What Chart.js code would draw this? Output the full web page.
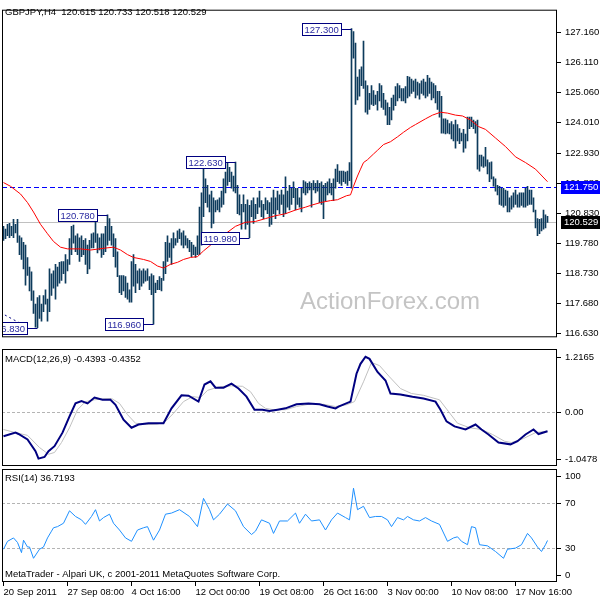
<!DOCTYPE html>
<html><head><meta charset="utf-8">
<script src="https://cdn.jsdelivr.net/npm/chart.js@4.4.0/dist/chart.umd.min.js"></script>
<style>
html,body{margin:0;padding:0;background:#fff;}
#wrap{position:relative;width:600px;height:600px;overflow:hidden;background:#fff;}
canvas{position:absolute;left:0;}
</style></head><body>
<div id="wrap">
<canvas id="main" width="600" height="347" style="top:0;width:600px;height:347px"></canvas>
<canvas id="macd" width="600" height="120" style="top:347px;width:600px;height:120px"></canvas>
<canvas id="rsi" width="600" height="133" style="top:467px;width:600px;height:133px"></canvas>
</div>
<script>
// ---------- DATA ----------
const symbol = "GBPJPY,H4";
const lastOHLC = [120.615, 120.733, 120.518, 120.529];

const highs = [
120.38,120.28,120.45,120.48,120.38,120.62,120.45,120.62,120.05,119.98,
119.82,119.72,119.29,118.95,118.79,118.12,117.66,117.89,117.96,117.66,
117.96,118.16,117.83,118.89,118.72,118.82,119.05,118.95,119.12,119.15,
119.15,119.39,119.22,119.95,120.38,120.42,120.05,120.12,119.98,120.05,
119.89,119.95,119.72,119.89,120.12,120.15,120.88,120.12,119.98,120.12,
120.12,120.38,120.78,120.65,120.38,120.12,119.95,119.49,118.66,118.66,
118.66,118.62,118.39,118.16,119.15,119.39,119.05,118.82,118.89,118.82,
118.89,118.82,118.89,118.62,118.72,118.66,118.39,118.49,118.62,118.56,
119.15,119.82,120.05,119.79,119.95,120.15,119.95,120.22,120.28,120.15,
120.22,120.05,119.95,119.89,119.82,119.72,119.65,120.05,121.05,121.55,
122.38,122.04,121.81,121.48,121.61,121.38,121.28,121.31,121.38,121.61,
122.04,122.28,122.61,122.44,122.28,122.14,122.63,121.81,121.48,121.15,
121.48,121.15,121.31,121.11,121.28,121.38,121.15,121.38,121.61,121.28,
121.15,121.38,121.28,121.21,121.38,121.65,121.38,121.61,121.48,121.65,
121.48,122.11,121.61,121.81,121.71,121.94,121.71,121.71,121.38,121.71,
121.98,121.94,121.88,121.94,121.88,121.98,121.88,121.98,121.88,121.94,
121.81,121.88,121.94,122.04,121.88,122.04,122.38,122.54,122.31,122.31,
122.31,122.28,122.31,122.61,127.30,127.19,126.79,125.60,125.86,125.96,
126.86,125.47,125.30,125.03,125.30,125.13,124.97,125.10,125.37,125.30,
125.03,124.80,124.70,124.54,124.87,124.97,125.27,125.37,125.30,125.20,
125.20,125.27,125.63,125.60,125.53,125.47,125.53,125.43,125.37,125.47,
125.53,125.43,125.66,125.57,125.43,125.37,125.30,125.10,125.10,124.93,
124.14,124.14,124.10,123.97,124.04,123.94,124.10,123.94,123.80,123.64,
123.77,123.61,124.20,124.20,124.20,124.10,124.04,124.10,122.87,122.87,
122.81,123.14,122.71,122.61,122.64,122.11,122.04,121.81,121.78,121.71,
121.71,121.65,121.61,121.38,121.45,121.55,121.65,121.48,121.55,121.55,
121.55,121.71,121.78,121.65,121.65,121.38,120.95,120.65,120.62,120.65,
120.95,120.78,120.733];

const lows = [
119.89,119.95,120.05,119.98,120.05,119.98,120.15,119.82,119.39,119.22,
118.89,118.32,118.66,118.12,117.79,117.33,116.85,116.83,117.16,117.06,
117.39,117.66,117.06,117.39,117.96,118.22,117.83,118.29,118.39,118.49,
118.72,118.39,118.82,119.05,119.39,119.79,119.49,119.39,119.15,119.32,
119.39,119.05,118.72,118.89,119.62,119.62,119.82,119.45,119.55,119.29,
119.39,119.49,119.72,119.89,119.72,119.32,118.95,118.62,118.06,117.99,
118.12,117.89,117.83,117.73,117.73,118.29,118.06,118.39,118.16,118.29,
118.39,118.46,118.49,118.16,117.99,116.96,118.06,118.16,118.16,118.12,
118.49,118.72,119.15,119.29,119.05,119.62,119.72,119.82,119.95,119.72,
119.62,119.72,119.62,119.49,119.32,119.39,119.29,119.39,119.39,119.72,
120.72,121.21,121.05,120.88,120.32,120.48,120.88,120.95,120.88,121.05,
121.15,121.55,121.81,121.94,121.71,121.61,121.55,120.82,120.78,120.28,
120.88,120.28,120.45,119.98,120.72,120.48,120.65,120.82,121.05,120.72,
120.65,120.95,120.82,120.38,120.45,120.82,120.65,120.95,120.82,121.15,
120.72,120.82,121.05,120.95,121.15,121.38,120.95,121.15,121.05,120.88,
121.55,121.48,121.55,121.65,121.05,121.65,121.55,121.61,121.21,121.15,
120.65,121.28,121.48,121.55,121.48,121.28,121.71,121.94,121.88,121.81,
121.94,121.88,121.81,121.98,121.71,126.26,124.64,124.80,124.93,125.30,
125.20,124.37,124.30,124.47,124.64,124.60,124.64,124.44,124.77,124.54,
124.47,124.27,123.94,123.94,124.10,124.44,124.60,124.77,124.87,124.77,
124.77,124.70,124.87,124.93,125.03,125.10,124.87,124.97,124.83,125.03,
124.97,124.87,124.93,125.03,124.80,124.87,124.70,124.47,124.20,123.64,
123.64,123.61,123.64,123.61,123.44,123.37,123.11,123.37,123.27,123.37,
122.97,123.11,123.37,123.80,123.87,123.80,123.64,122.38,122.31,122.48,
122.44,122.48,122.21,121.94,122.04,121.78,121.61,121.48,121.15,121.11,
121.05,121.11,120.88,120.88,120.98,121.05,121.15,121.05,121.05,121.11,
121.05,121.05,121.11,121.15,121.15,120.88,120.32,120.05,120.12,120.22,
120.28,120.32,120.518];

// red moving average, read at bar positions
const maIdx = [0,3.5,8.5,12,15,18.5,22,25,28.5,32,38.5,43.5,51,55,58.5,62,65,70,73.5,77,80,83.5,87,90,93.5,97,100,103.5,107,111,116,121,126,131,136,141,146,151,153.5,158.5,163.5,167,171.5,173.5,175,177,178.5,180,182,185,187,190,193.5,197,200,203.5,206,211,214.5,218.5,222,226,229.5,233.5,237.5,241,246,251,256,261,266,272];
const maVal = [121.91,121.78,121.51,121.21,120.88,120.45,120.12,119.85,119.65,119.59,119.59,119.55,119.62,119.65,119.55,119.39,119.29,119.22,119.15,118.99,118.92,119.05,119.12,119.22,119.29,119.32,119.52,119.72,119.89,120.12,120.38,120.52,120.55,120.65,120.75,120.82,120.95,121.05,121.11,121.21,121.28,121.31,121.45,121.48,121.78,122.14,122.38,122.61,122.71,122.91,123.04,123.24,123.34,123.51,123.67,123.84,123.94,124.14,124.27,124.37,124.34,124.27,124.24,124.10,123.87,123.77,123.47,123.17,122.81,122.61,122.38,121.94];

// swing labels
const lblIdx = [174, 116, 52, 123, 75, 17];
const lblPrice = [127.300, 122.630, 120.780, 119.980, 116.960, 116.830];
// dotted swing leg at lower left
const zzIdx = [-1.5, 12];
const zzVal = [117.36, 116.85];

const resistLevel = 121.750;
const lastClose = 120.529;
const priceTicks = [127.160,126.110,125.060,124.010,122.930,121.880,120.830,119.780,118.730,117.680,116.630];

// MACD
const macdIdx = [0,6,7.5,12,16,17.5,20.5,22.5,25.5,29.5,33,36,39,42,45.5,49.5,53.5,56,60,64,67.5,72.5,76.5,80,84,89,92.5,97.5,100.5,103.5,106,110,114,117.5,121.5,125.5,129.5,133,137,141,146.5,152.5,158,162,166,167.5,173.5,176.5,178.5,181,183,187,191,193.5,198.5,204.5,210,216,218.5,221.5,225.5,231,236,239,242.5,247.5,253.5,257,261,265,267.5,272];
const macdVal = [-0.55,-0.47,-0.50,-0.62,-0.88,-1.0478,-1.01,-0.88,-0.77,-0.47,-0.11,0.18,0.23,0.18,0.31,0.26,0.26,0.15,-0.18,-0.36,-0.29,-0.26,-0.26,-0.26,0.07,0.36,0.35,0.22,0.60,0.67,0.53,0.53,0.62,0.51,0.33,0.04,0.04,0.01,0.04,0.07,0.16,0.18,0.16,0.11,0.07,0.11,0.22,0.84,1.06,1.2165,1.17,0.88,0.69,0.40,0.38,0.33,0.29,0.22,0.04,-0.22,-0.33,-0.40,-0.29,-0.40,-0.51,-0.69,-0.73,-0.66,-0.51,-0.40,-0.50,-0.4393];
const sigIdx = [0,6,12,18,22.5,25.5,29,33,37,41,45.5,49.5,54,58,62,66,71.5,77,81,85,90,94.5,98.5,102,108,114,119.5,123.5,127.5,131,135,141,146.5,152.5,160,166,171.5,175.5,180,184,188,193,198.5,204,210,218,222.5,227,233,239,244.5,250.5,254,260,266,272];
const sigVal = [-0.40,-0.47,-0.53,-0.80,-0.95,-0.91,-0.69,-0.36,0.04,0.22,0.26,0.28,0.29,0.18,-0.07,-0.26,-0.29,-0.28,-0.22,-0.04,0.22,0.33,0.31,0.47,0.55,0.57,0.56,0.44,0.18,0.07,0.04,0.04,0.11,0.16,0.16,0.11,0.15,0.22,0.66,1.09,1.02,0.77,0.51,0.40,0.36,0.26,0.00,-0.26,-0.36,-0.40,-0.51,-0.66,-0.69,-0.60,-0.47,-0.4352];
const macdLevels = [0];
const macdAxisVals = [1.2165, 0, -1.0478];
const macdAxisText = ["1.2165", "0.00", "-1.0478"];

// RSI
const rsiIdx = [0,2,5,7,9,10,12,13,15,18,20,22,24,25,27,30,33,36,39,41,44,46,48,50,53,55,58,61,64,67,70,72,75,78,81,84,88,93,97,100,103,105,108,112,116,120,124,126,129,133,135,138,142,146,148,151,154,158,161,164,167,171,173,175,177,180,183,186,189,192,194,197,200,202,205,208,211,214,218,222,225,227,229,232,234,236,238,242,246,250,252,256,259,262,264,267,269,271,272];
const rsiVal = [29,36,39,35,26,37,31,31,21,29,31,39,45,48,49,52,63,58,55,51,58,64,54,57,60,52,46,39,36,46,48,49,37,46,60,61,64,58,49,74,64,55,60,69,63,49,42,45,55,52,43,54,54,61,52,60,54,55,46,55,61,57,55,83,64,67,57,58,58,55,49,57,55,58,55,54,57,54,51,36,39,40,36,33,49,48,33,32,27,21,29,30,33,43,39,31,27,33,36.7193];
const rsiLevels = [70, 30];
const rsiAxisVals = [100, 70, 30, 0];

// time axis
const timeTickIdx = [0,32,64,96,128,160,192,224,256];
const timeLabels = ["20 Sep 2011","27 Sep 08:00","4 Oct 16:00","12 Oct 00:00","19 Oct 08:00","26 Oct 16:00","3 Nov 00:00","10 Nov 08:00","17 Nov 16:00"];

// ---------- STYLE / LAYOUT ----------
const FONT = "'Liberation Sans', Arial, sans-serif";
const FS = 9.5;
const X_MIN = -0.75, X_MAX = 276.75;
const Y_MIN = 116.497, Y_MAX = 127.958;
const M_MIN = -1.211, M_MAX = 1.389;

Chart.defaults.animation = false;
Chart.defaults.font.family = FONT;
Chart.defaults.font.size = FS;
Chart.defaults.color = '#000';
Chart.defaults.plugins.legend.display = false;
Chart.defaults.plugins.tooltip.enabled = false;

const pts = (xs, ys) => xs.map((x, k) => ({x: x, y: ys[k]}));

function frame(chart) {
  const {ctx, chartArea: a} = chart;
  ctx.save();
  ctx.strokeStyle = '#000'; ctx.lineWidth = 1;
  ctx.strokeRect(a.left + 0.5, a.top + 0.5, a.right - a.left - 1, a.bottom - a.top - 1);
  ctx.restore();
}
function text(ctx, s, x, y, color) {
  ctx.save();
  ctx.font = FS + 'px ' + FONT; ctx.fillStyle = color || '#000';
  ctx.textBaseline = 'middle'; ctx.textAlign = 'left';
  ctx.fillText(s, x, y);
  ctx.restore();
}
// crisp horizontal level line positioned by the chart's y scale
function level(chart, v, color, dash) {
  const {ctx, chartArea: a, scales: {y}} = chart;
  const py = Math.round(y.getPixelForValue(v)) + 0.5;
  ctx.save();
  ctx.beginPath(); ctx.rect(a.left, a.top, a.right - a.left, a.bottom - a.top); ctx.clip();
  ctx.strokeStyle = color; ctx.lineWidth = 1; ctx.setLineDash(dash || []);
  ctx.beginPath(); ctx.moveTo(a.left, py); ctx.lineTo(a.right, py); ctx.stroke();
  ctx.restore();
}
function sideLabels(chart, vals, texts) {
  const {ctx, chartArea: a, scales: {y}} = chart;
  ctx.save();
  ctx.font = FS + 'px ' + FONT; ctx.fillStyle = '#000'; ctx.strokeStyle = '#000'; ctx.lineWidth = 1;
  ctx.textBaseline = 'middle'; ctx.textAlign = 'left';
  vals.forEach((v, k) => {
    let py = y.getPixelForValue(v);
    py = Math.min(Math.max(py, a.top + 7), a.bottom - 7);
    py = Math.round(py) + 0.5;
    ctx.beginPath(); ctx.moveTo(a.right, py); ctx.lineTo(a.right + 4, py); ctx.stroke();
    ctx.fillText(texts[k], a.right + 8, py);
  });
  ctx.restore();
}

// ---------- MAIN PRICE CHART ----------
const mainDeco = {
  id: 'mainDeco',
  beforeDatasetsDraw(chart) {
    const {ctx} = chart;
    ctx.save();
    ctx.font = '24px ' + FONT; ctx.fillStyle = '#c4c4c4';
    ctx.textBaseline = 'alphabetic'; ctx.textAlign = 'left';
    ctx.fillText('ActionForex.com', 300, 309);
    ctx.restore();
    level(chart, lastClose, '#c0c0c0');
    level(chart, resistLevel, '#0000ff', [5, 3]);
  },
  afterDatasetsDraw(chart) {
    const {ctx, chartArea: a, scales: {x, y}} = chart;
    ctx.save();
    ctx.beginPath(); ctx.rect(a.left, a.top, a.right - a.left, a.bottom - a.top); ctx.clip();
    ctx.font = FS + 'px ' + FONT; ctx.textBaseline = 'middle'; ctx.textAlign = 'left';
    lblIdx.forEach((idx, k) => {
      const bx = Math.floor(x.getPixelForValue(idx)) + 0.5;
      const by = Math.round(y.getPixelForValue(lblPrice[k])) + 0.5;
      const t = lblPrice[k].toFixed(3);
      const tw = Math.ceil(ctx.measureText(t).width);
      const right = bx - 10, left = right - tw - 4;
      ctx.fillStyle = '#fff'; ctx.fillRect(left, by - 6, right - left, 12);
      ctx.strokeStyle = '#000080'; ctx.lineWidth = 1;
      ctx.strokeRect(left, by - 6, right - left, 12);
      ctx.beginPath(); ctx.moveTo(right, by); ctx.lineTo(bx, by); ctx.stroke();
      ctx.fillStyle = '#2a2aa0'; ctx.fillText(t, left + 2, by + 0.5);
    });
    ctx.restore();
  },
  afterDraw(chart) {
    const {ctx, chartArea: a, scales: {y}} = chart;
    frame(chart);
    text(ctx, symbol + '  ' + lastOHLC.map(v => v.toFixed(3)).join(' '), 5, 12);
    [[resistLevel, '#0000ff'], [lastClose, '#000000']].forEach(([v, bg]) => {
      const py = Math.round(y.getPixelForValue(v));
      ctx.save();
      ctx.fillStyle = bg; ctx.fillRect(a.right + 4, py - 6, 39, 13);
      ctx.restore();
      text(ctx, v.toFixed(3), a.right + 7, py + 0.5, '#fff');
    });
  }
};

new Chart(document.getElementById('main'), {
  type: 'bar',
  data: {
    datasets: [
      {type: 'line', data: pts(maIdx, maVal), borderColor: '#ff0000', borderWidth: 1, pointRadius: 0, tension: 0, order: 0},
      {type: 'bar', data: highs.map((h, i) => ({x: i, y: [lows[i], h]})), backgroundColor: '#0d3b5c', borderWidth: 0, barThickness: 1, order: 1},
      {type: 'line', data: pts(zzIdx, zzVal), borderColor: '#000080', borderWidth: 1, borderDash: [2, 3], pointRadius: 0, order: 2}
    ]
  },
  options: {
    responsive: false, events: [],
    layout: {padding: {left: 2, top: 2, right: 0, bottom: 0}},
    scales: {
      x: {type: 'linear', min: X_MIN, max: X_MAX, display: false, offset: false, grid: {offset: false}},
      y: {
        type: 'linear', position: 'right', min: Y_MIN, max: Y_MAX, bounds: 'data',
        afterBuildTicks: s => { s.ticks = priceTicks.map(v => ({value: v})); },
        afterFit: s => { s.width = 43; },
        ticks: {autoSkip: false, padding: 4, color: '#000', font: {family: FONT, size: FS}, callback: v => Number(v).toFixed(3)},
        grid: {drawOnChartArea: false, drawTicks: true, tickLength: 4, color: '#000'},
        border: {display: false}
      }
    },
    plugins: {legend: {display: false}, tooltip: {enabled: false}}
  },
  plugins: [mainDeco]
});

// ---------- MACD ----------
const macdDeco = {
  id: 'macdDeco',
  beforeDatasetsDraw(chart) {
    macdLevels.forEach(v => level(chart, v, '#b4b4b4', [3, 2]));
  },
  afterDraw(chart) {
    frame(chart);
    text(chart.ctx, 'MACD(12,26,9) ' + macdVal[macdVal.length - 1].toFixed(4) + ' ' + sigVal[sigVal.length - 1].toFixed(4), 5, 12);
    sideLabels(chart, macdAxisVals, macdAxisText);
  }
};
new Chart(document.getElementById('macd'), {
  type: 'line',
  data: {
    datasets: [
      {data: pts(macdIdx, macdVal), borderColor: '#000080', borderWidth: 2, pointRadius: 0, tension: 0, order: 0},
      {data: pts(sigIdx, sigVal), borderColor: '#c0c0c0', borderWidth: 1, pointRadius: 0, tension: 0, order: 1}
    ]
  },
  options: {
    responsive: false, events: [],
    layout: {padding: {left: 2, top: 2, right: 43, bottom: 1}},
    scales: {
      x: {type: 'linear', min: X_MIN, max: X_MAX, display: false},
      y: {type: 'linear', min: M_MIN, max: M_MAX, display: false}
    }
  },
  plugins: [macdDeco]
});

// ---------- RSI ----------
const rsiDeco = {
  id: 'rsiDeco',
  beforeDatasetsDraw(chart) {
    rsiLevels.forEach(v => level(chart, v, '#b4b4b4', [3, 2]));
  },
  afterDraw(chart) {
    frame(chart);
    text(chart.ctx, 'RSI(14) ' + rsiVal[rsiVal.length - 1].toFixed(4), 5, 11);
    text(chart.ctx, 'MetaTrader - Alpari UK, c 2001-2011 MetaQuotes Software Corp.', 5, 107);
    sideLabels(chart, rsiAxisVals, rsiAxisVals.map(String));
  }
};
new Chart(document.getElementById('rsi'), {
  type: 'line',
  data: {
    datasets: [
      {data: pts(rsiIdx, rsiVal), borderColor: '#1e90ff', borderWidth: 1, pointRadius: 0, tension: 0, order: 0}
    ]
  },
  options: {
    responsive: false, events: [],
    layout: {padding: {left: 2, top: 2, right: 43, bottom: 0}},
    scales: {
      x: {
        type: 'linear', min: X_MIN, max: X_MAX, position: 'bottom',
        afterBuildTicks: s => { s.ticks = timeTickIdx.map(v => ({value: v})); },
        afterFit: s => { s.height = 18; },
        ticks: {autoSkip: false, maxRotation: 0, minRotation: 0, align: 'start', padding: 1, color: '#000', font: {family: FONT, size: FS},
                callback: (v, i) => timeLabels[i]},
        grid: {drawOnChartArea: false, drawTicks: true, tickLength: 4, color: '#000'},
        border: {display: false}
      },
      y: {type: 'linear', min: 0, max: 100, display: false}
    }
  },
  plugins: [rsiDeco]
});
</script>
</body></html>
